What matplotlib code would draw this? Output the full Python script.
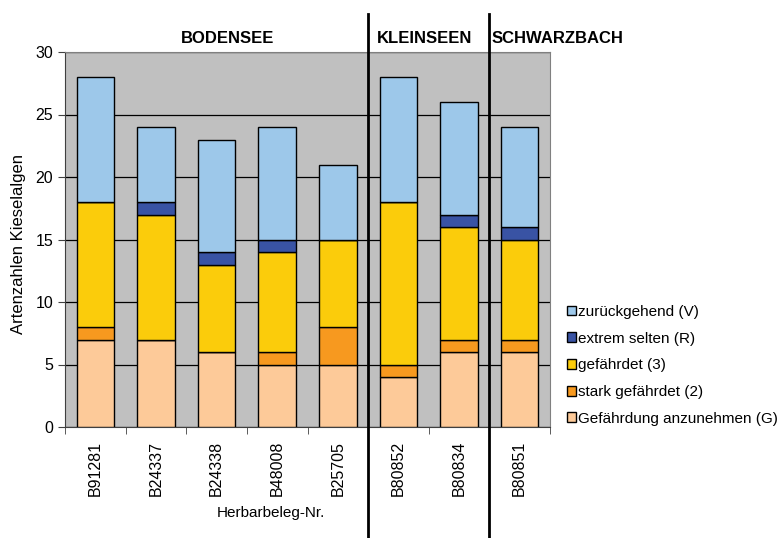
import matplotlib
matplotlib.use("Agg")
import matplotlib.pyplot as plt
from matplotlib.lines import Line2D
from matplotlib.patches import Patch
import numpy as np

plt.rcParams['font.family'] = ['Liberation Sans', 'DejaVu Sans']

samples = ["B91281", "B24337", "B24338", "B48008", "B25705", "B80852", "B80834", "B80851"]
gefaehrdung_G = [7, 7, 6, 5, 5, 4, 6, 6]
stark_2 = [1, 0, 0, 1, 3, 1, 1, 1]
gefaehrdet_3 = [10, 10, 7, 8, 7, 13, 9, 8]
extrem_R = [0, 1, 1, 1, 0, 0, 1, 1]
zurueck_V = [10, 6, 9, 9, 6, 10, 9, 8]

series = [
    ("Gefährdung anzunehmen (G)", gefaehrdung_G, "#FDCA99"),
    ("stark gefährdet (2)", stark_2, "#F7991F"),
    ("gefährdet (3)", gefaehrdet_3, "#FBCC0B"),
    ("extrem selten (R)", extrem_R, "#3953A4"),
    ("zurückgehend (V)", zurueck_V, "#9DC8EA"),
]

groups = [("BODENSEE", 0, 5), ("KLEINSEEN", 5, 7), ("SCHWARZBACH", 7, 8)]

W, H = 784, 538
fig = plt.figure(figsize=(W / 100, H / 100), dpi=100)
ax = fig.add_axes([65 / W, 1 - 427 / H, (550 - 65) / W, (427 - 52) / H])
ax.set_facecolor("#C0C0C0")

x = np.arange(len(samples))
bottom = np.zeros(len(samples))
for label, vals, color in series:
    vals = np.array(vals, dtype=float)
    ax.bar(x, vals, width=0.62, bottom=bottom, color=color,
           edgecolor="black", linewidth=1.0, zorder=3)
    bottom += vals

ax.set_xlim(-0.5, len(samples) - 0.5)
ax.set_ylim(0, 30)
ax.set_yticks(range(0, 31, 5))
ax.yaxis.grid(True, color="black", linewidth=0.9, zorder=1)
ax.set_axisbelow(True)

ax.set_xticks(x)
ax.set_xticklabels(samples, rotation=90, fontsize=11.5)
ax.tick_params(axis="x", length=0, pad=10)
ax.set_xticks(np.arange(-0.5, len(samples), 1), minor=True)
ax.tick_params(axis="x", which="minor", length=5, direction="out", color="#404040")
ax.tick_params(axis="y", length=5, direction="out", labelsize=11.5, color="#404040")

for s in ["top", "right"]:
    ax.spines[s].set_color("#808080")
for s in ["left", "bottom"]:
    ax.spines[s].set_color("#404040")

fig.text(19 / W, 1 - 244 / H, "Artenzahlen Kieselalgen", fontsize=12,
         rotation=90, ha="center", va="center")
fig.text(271 / W, 1 - 513 / H, "Herbarbeleg-Nr.", fontsize=11, ha="center", va="center")

# Group separators between sampling regions
for name, start, end in groups:
    if start > 0:
        xd = start - 0.5
        xf = fig.transFigure.inverted().transform(ax.transData.transform((xd, 0)))[0]
        fig.add_artist(Line2D([xf, xf], [0, 1 - 14 / H], color="black", linewidth=2))

# Region headings above the plot area
trans = ax.get_xaxis_transform()
head_y = 1.037
ax.text(2.18, head_y, "BODENSEE", transform=trans, ha="center", va="center",
        fontsize=12, fontweight="bold")
ax.text(4.646, head_y, "KLEINSEEN", transform=trans, ha="left", va="center",
        fontsize=12, fontweight="bold")
ax.text(6.543, head_y, "SCHWARZBACH", transform=trans, ha="left", va="center",
        fontsize=12, fontweight="bold")

handles = [Patch(facecolor=c, edgecolor="black", linewidth=1.0, label=l)
           for l, v, c in reversed(series)]
fig.legend(handles=handles, loc="upper left", bbox_to_anchor=(567 / W, 1 - 305 / H),
           frameon=False, fontsize=11, handlelength=0.6, handleheight=0.6,
           handletextpad=0.15, labelspacing=0.83, borderaxespad=0, borderpad=0)

fig.savefig("out.png", dpi=100)
